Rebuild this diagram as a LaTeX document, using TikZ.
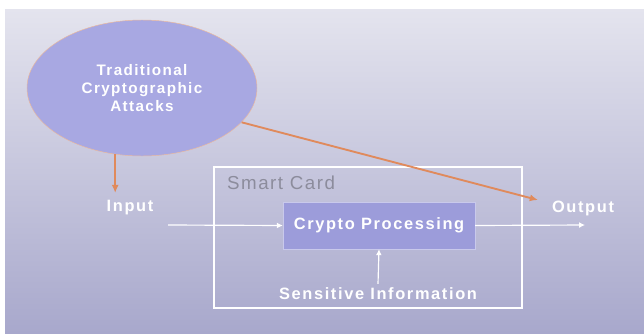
\documentclass[tikz,border=0pt]{standalone}
\usepackage{fontspec}
\setmainfont{Liberation Sans}
\usetikzlibrary{shapes.geometric,arrows.meta}

\definecolor{bgtop}{HTML}{E4E4EE}
\definecolor{bgbot}{HTML}{A8A8CC}
\definecolor{ellfill}{HTML}{A8A8E2}
\definecolor{attackcol}{HTML}{E08A5C}
\definecolor{procfill}{HTML}{9C9CDA}
\definecolor{cardtext}{HTML}{8C8C9C}

\begin{document}
\begin{tikzpicture}[x=0.03cm,y=-0.03cm,
    whitelabel/.style={text=white,font=\fontsize{14}{16}\selectfont\bfseries\addfontfeature{LetterSpace=10}},
    attackline/.style={-{Latex[length=7pt,width=6pt]},line width=1.6pt,attackcol},
    flow/.style={-{Latex[length=5pt,width=5pt]},line width=1pt,white}]

    \useasboundingbox (0,0) rectangle (644,333);
    \shade[top color=bgtop,bottom color=bgbot] (5,9) rectangle (644,333);

    % smart card frame
    \node[draw=white,line width=1pt,minimum width=9.24cm,minimum height=4.23cm] (card) at (368,237.5) {};
    \node[anchor=west,text=cardtext,font=\fontsize{16}{18}\selectfont\addfontfeature{LetterSpace=8}] (cardname) at (223,183) {Smart Card};

    % attacker
    \node[ellipse,draw=attackcol!60,fill=ellfill,minimum width=6.9cm,minimum height=4.08cm,
          whitelabel,font=\fontsize{13}{15.5}\selectfont\bfseries\addfontfeature{LetterSpace=9},align=center] (attack) at (142,88)
          {Traditional\\Cryptographic\\Attacks};

    % card contents
    \node[draw=white!45!procfill,fill=procfill,minimum width=5.76cm,minimum height=1.41cm,whitelabel] (proc) at (379,225.5) {Crypto Processing};
    \node[whitelabel] (sens) at (378,294) {Sensitive Information};
    \node[whitelabel] (input) at (130,208) {Input};
    \node[whitelabel] (output) at (583,208) {Output};

    \coordinate (inflow) at (168,225);
    \coordinate (outflow) at (585,225);
    \coordinate (inhit) at (115,193);
    \coordinate (outhit) at (538,200);

    \draw[flow] (inflow) -- (proc.west);
    \draw[flow] (proc.east) -- (outflow);
    \draw[flow] (sens.north) -- (proc.south);

    \draw[attackline] (attack.248) -- (attack.248 |- inhit);
    \draw[attackline] (attack.-19) -- (outhit);

\end{tikzpicture}
\end{document}
